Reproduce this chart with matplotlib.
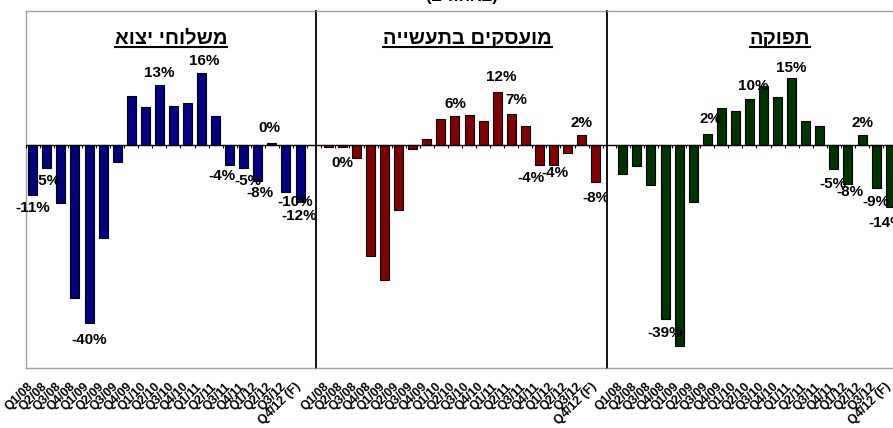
import numpy as np
import matplotlib
matplotlib.use("Agg")
import matplotlib.pyplot as plt
import matplotlib.transforms as mtransforms
from matplotlib.lines import Line2D

plt.rcParams['font.family'] = ['Liberation Sans', 'DejaVu Sans']

# ---------------- data ----------------
quarters = ["Q1/08", "Q2/08", "Q3/08", "Q4/08", "Q1/09", "Q2/09", "Q3/09", "Q4/09",
            "Q1/10", "Q2/10", "Q3/10", "Q4/10", "Q1/11", "Q2/11", "Q3/11", "Q4/11",
            "Q1/12", "Q2/12", "Q3/12", "Q4/12 (F)"]

titles = ["משלוחי יצוא", "מועסקים בתעשייה", "תפוקה"]

exports = [-11.2, -5.2, -13.1, -34.4, -40.0, -20.9, -3.9, 11.0, 8.4, 13.4,
           8.6, 9.3, 16.2, 6.4, -4.4, -5.1, -8.2, 0.4, -10.6, -12.8]
exports_labels = ["-11%", "-5%", "", "", "-40%", "", "", "", "", "13%",
                  "", "", "16%", "", "-4%", "-5%", "-8%", "0%", "-10%", "-12%"]

employment = [-0.4, -0.4, -3.0, -24.9, -30.3, -14.6, -0.9, 1.3, 5.8, 6.4,
              6.7, 5.4, 11.9, 6.9, 4.3, -4.6, -4.6, -1.9, 2.2, -8.4]
employment_labels = ["", "0%", "", "", "", "", "", "", "", "6%",
                     "", "", "12%", "7%", "", "-4%", "-4%", "", "2%", "-8%"]

output = [-6.5, -4.7, -9.0, -39.0, -45.0, -12.7, 2.5, 8.2, 7.5, 10.3,
          13.2, 10.8, 14.9, 5.4, 4.3, -5.4, -8.8, 2.2, -9.7, -13.9]
output_labels = ["", "", "", "-39%", "", "", "2%", "", "", "10%",
                 "", "", "15%", "", "", "-5%", "-8%", "2%", "-9%", "-14%"]

main_title_tail = "(באחוזים)"

# ---------------- layout (pixels) ----------------
W, H = 893, 428
fig = plt.figure(figsize=(W / 100, H / 100), dpi=100)

TOP, BOTTOM = 11, 368
SPACING = 14.07  # pixels per category

panels = [
    dict(x0=26.0, x1=316.0, e0=25.7, color="#000080", title_x=170.8,
         vals=exports, labels=exports_labels, spine="#a0a0a0",
         nudge={12: (3, 0), 14: (-8, 2), 15: (4, 0), 16: (2, 1), 17: (-3, 3), 18: (9, 3), 19: (-1, -1), 4: (0, -4)}),
    dict(x0=316.0, x1=607.5, e0=321.3, color="#800000", title_x=467.5,
         vals=employment, labels=employment_labels, spine="black",
         nudge={1: (0, -3), 12: (4, 3), 13: (5, 2), 15: (-8, 0), 16: (1, 5), 19: (0, -3)}),
    dict(x0=607.3, x1=897.3, e0=615.8, color="#003300", title_x=780.0,
         vals=output, labels=output_labels, spine="black",
         nudge={3: (0, -1), 6: (3, 3), 9: (4, 1), 12: (0, -2), 15: (-1, -2), 16: (2, 5), 18: (0, -1), 19: (-4, -3)}),
]

x = np.arange(len(quarters))
title_artists = []
shift = mtransforms.ScaledTranslation(3 / 100, 0, fig.dpi_scale_trans)

for p, title in zip(panels, titles):
    ax = fig.add_axes([p["x0"] / W, 1 - BOTTOM / H, (p["x1"] - p["x0"]) / W, (BOTTOM - TOP) / H])
    ax.set_xlim(-0.5 - (p["e0"] - p["x0"]) / SPACING, -0.5 + (p["x1"] - p["e0"]) / SPACING)
    ax.set_ylim(-50, 30)
    ax.bar(x, p["vals"], width=0.64, color=p["color"], edgecolor="black", linewidth=0.8, zorder=2)
    ax.axhline(0, color="black", lw=1.0, zorder=3)
    ax.vlines(np.arange(len(quarters) + 1) - 0.5, -0.7, 0, color="black", lw=0.8, zorder=3)

    for side in ["top", "bottom", "right", "left"]:
        ax.spines[side].set_color("#a0a0a0")
        ax.spines[side].set_linewidth(1.0)
    ax.spines["right"].set_visible(False)
    ax.spines["left"].set_color(p["spine"])
    if p["spine"] == "black":
        ax.spines["left"].set_linewidth(1.3)

    ax.set_yticks([])
    ax.set_xticks(x)
    ax.set_xticklabels(quarters, rotation=45, ha="right", va="top",
                       fontsize=9, fontweight="bold")
    ax.tick_params(axis="x", length=0, pad=9)
    for lbl in ax.get_xticklabels():
        lbl.set_transform(lbl.get_transform() + shift)

    for i, (v, lab) in enumerate(zip(p["vals"], p["labels"])):
        if not lab:
            continue
        dx, dy = p["nudge"].get(i, (0, 0))
        base = 12 if v >= 0 else -13
        ax.annotate(lab, (i, v), xytext=(dx, base + dy), textcoords="offset pixels",
                    ha="center", va="center", fontsize=11, fontweight="bold",
                    color="black", zorder=5, annotation_clip=False)

    # matplotlib lays text out left-to-right, so Hebrew is reversed for display
    t = fig.text(p["title_x"] / W, 1 - 43.5 / H, title[::-1], ha="center",
                 va="baseline", fontsize=14.5, fontweight="bold")
    title_artists.append(t)

# cut-off main title at the very top (visual order: reversed, parentheses swapped)
vis = main_title_tail[::-1].translate(str.maketrans("()", ")("))
fig.text(462 / W, 1 - 1.0 / H, vis, ha="center", va="baseline", fontsize=12, fontweight="bold")

# underline titles
fig.canvas.draw()
renderer = fig.canvas.get_renderer()
for t in title_artists:
    bb = t.get_window_extent(renderer)
    y = 1 - 46.7 / H
    fig.add_artist(Line2D([bb.x0 / W, bb.x1 / W], [y, y], transform=fig.transFigure,
                          color="black", lw=1.5))

fig.savefig("out.png", dpi=100)
